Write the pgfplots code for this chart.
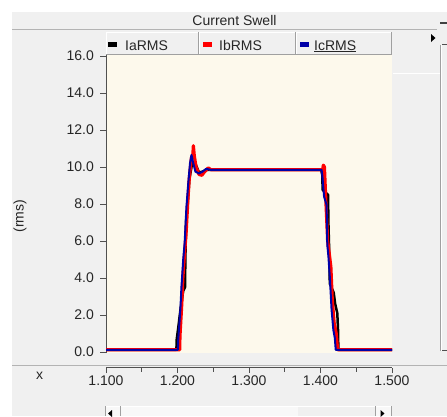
\documentclass[border=0pt]{standalone}
\usepackage{pgfplots}
\pgfplotsset{compat=1.18}
\usepackage{fontspec}
\setmainfont{Liberation Sans}
\definecolor{panel}{HTML}{F0F0F0}
\definecolor{cream}{HTML}{FDF9EC}
\definecolor{navy}{HTML}{0000A8}
\definecolor{edge}{HTML}{A0A0A0}
\definecolor{axisgray}{HTML}{505050}
\newcommand{\uifont}{\fontsize{14bp}{16bp}\selectfont}
\newcommand{\legtab}[2]{%
  \fill[panel] (#1,361) rectangle (#2,384);
  \draw[white] (#1+0.5,361) -- (#1+0.5,383.5) -- (#2-0.5,383.5);
  \draw[edge] (#2-0.5,384) -- (#2-0.5,361.5) -- (#1,361.5);
}
\begin{document}
\begin{tikzpicture}[x=1bp,y=1bp]
\clip (0,0) rectangle (447,416);
\path[use as bounding box] (0,0) rectangle (447,416);
\fill[white] (0,0) rectangle (447,416);
\fill[panel] (12,0) rectangle (447,404);
% title bar
\draw[edge!80] (12,386.5) -- (437,386.5);
\node[font=\uifont, text=black!85] at (234.5,395.5) {Current Swell};
\draw[black!75, line width=1.2bp] (440,393) -- (447,393);
% separator under plot panel
\draw[edge!80] (12,51) -- (447,51);
% plot background
\fill[cream] (106,63) rectangle (392,384);
% main plot
\begin{axis}[
  at={(106bp,63bp)}, anchor=south west,
  scale only axis, width=286bp, height=321bp,
  xmin=1.1, xmax=1.5, ymin=-0.054, ymax=17.297,
  axis x line=none, axis y line*=left,
  y axis line style={-, draw=axisgray, line width=0.8bp},
  ytick={0,2,...,16}, xtick=\empty,
  tick align=outside, major tick length=6bp,
  every tick/.style={axisgray, line width=0.8bp},
  yticklabel style={font=\uifont, text=black!85, inner sep=0pt},
  yticklabel shift=6bp,
  /pgf/number format/fixed, /pgf/number format/fixed zerofill,
  /pgf/number format/precision=1, /pgf/number format/assume math mode=true,
]
\addplot[black, line width=2.5bp, line join=round] coordinates {
(1.1000,0.12) (1.1985,0.12) (1.1988,0.65) (1.2010,1.3) (1.2045,2.4) (1.2080,3.3)
(1.2105,3.5) (1.2110,5.0) (1.2120,7.1) (1.2140,7.9) (1.2165,9.3) (1.2200,10.1)
(1.2240,10.25) (1.2270,10.0) (1.2300,9.7) (1.2350,9.75) (1.2420,9.85)
(1.4010,9.85) (1.4025,9.55) (1.4030,8.76) (1.4105,8.5) (1.4112,6.8) (1.4125,5.0)
(1.4130,3.7) (1.4185,3.2) (1.4205,2.6) (1.4235,2.1) (1.4245,1.2) (1.4250,0.12)
(1.5000,0.12)
};
\addplot[red, line width=3.2bp, line join=round] coordinates {
(1.1000,0.12) (1.2030,0.12) (1.2035,0.9) (1.2060,2.6) (1.2075,4.0) (1.2100,5.4)
(1.2120,6.4) (1.2145,8.2) (1.2165,9.4) (1.2195,10.5) (1.2215,10.7) (1.2222,11.15)
(1.2235,10.6) (1.2260,10.0) (1.2300,9.6) (1.2340,9.55) (1.2380,9.75) (1.2430,9.95)
(1.2470,9.85) (1.4030,9.85) (1.4040,10.1) (1.4055,10.0) (1.4070,8.6) (1.4100,6.0)
(1.4120,5.4) (1.4145,4.6) (1.4165,2.8) (1.4190,1.6) (1.4220,1.0) (1.4240,0.12)
(1.5000,0.12)
};
\addplot[navy, line width=2bp, line join=round] coordinates {
(1.1000,0.12) (1.2005,0.12) (1.2010,0.65) (1.2040,2.3) (1.2055,3.5) (1.2080,5.0)
(1.2100,5.9) (1.2125,7.85) (1.2150,9.1) (1.2175,10.2) (1.2195,10.65) (1.2215,10.3)
(1.2250,9.75) (1.2300,9.65) (1.2350,9.75) (1.2400,9.9) (1.2460,9.85) (1.4015,9.85)
(1.4025,9.55) (1.4050,8.4) (1.4085,7.95) (1.4095,5.8) (1.4110,5.2) (1.4130,4.07)
(1.4155,2.27) (1.4180,1.19) (1.4200,0.76) (1.4213,0.12) (1.5000,0.12)
};
\end{axis}
% x axis
\begin{axis}[
  at={(106bp,48.5bp)}, anchor=south west,
  scale only axis, width=286bp, height=1bp,
  xmin=1.1, xmax=1.5, ymin=0, ymax=1,
  axis y line=none, axis x line*=bottom,
  x axis line style={-, draw=axisgray, line width=0.8bp},
  xtick={1.1,1.2,1.3,1.4,1.5}, minor xtick={1.15,1.25,1.35,1.45},
  tick align=outside, major tick length=5.5bp, minor tick length=4bp,
  every tick/.style={axisgray, line width=0.8bp},
  xticklabel style={font=\uifont, text=black!85, inner sep=0pt},
  xticklabel shift=3bp,
  /pgf/number format/fixed, /pgf/number format/fixed zerofill,
  /pgf/number format/precision=3, /pgf/number format/assume math mode=true,
]
\addplot[draw=none] coordinates {(1.1,0) (1.5,0)};
\end{axis}
\node[font=\uifont, text=black!85] at (39.5,40) {x};
\node[font=\uifont, text=black!85, rotate=90] at (20,200) {(rms)};
% legend tabs
\legtab{106}{199}
\legtab{199}{296}
\legtab{296}{392}
\fill[black] (108,369.5) rectangle (116.5,374);
\node[font=\uifont, text=black!85, anchor=base west, inner sep=0pt] at (125,366) {IaRMS};
\fill[red] (203,369.5) rectangle (212,374);
\node[font=\uifont, text=black!85, anchor=base west, inner sep=0pt] at (219,366) {IbRMS};
\fill[navy] (300,369.5) rectangle (309,374);
\node[font=\uifont, text=black!85, anchor=base west, inner sep=0pt] at (314,366) {\underline{IcRMS}};
% top right arrow
\fill[black] (431,382) -- (431,374) -- (435.5,378) -- cycle;
% right side scroll strip
\draw[edge] (440.5,65) -- (440.5,371);
\draw[white] (441.5,65) -- (441.5,371);
\draw[axisgray] (442,372) -- (447,372);
\draw[axisgray] (442,66) -- (447,66);
\draw[white, line width=0.8bp] (393,343) -- (440,343);
% bottom scroll bar
\fill[white!55!panel] (105,0) rectangle (392,10);
\fill[panel] (298,0) rectangle (375,10);
\draw[white] (105,10) -- (392,10);
\draw[edge] (105.5,0) -- (105.5,10);
\draw[edge] (120.5,0) -- (120.5,10);
\draw[edge] (375,0) -- (375,10);
\draw[edge] (391.5,0) -- (391.5,10);
\fill[black] (108,2.5) -- (112,6) -- (112,-1) -- cycle;
\fill[black] (384.5,2.5) -- (380.5,6) -- (380.5,-1) -- cycle;
\end{tikzpicture}
\end{document}
